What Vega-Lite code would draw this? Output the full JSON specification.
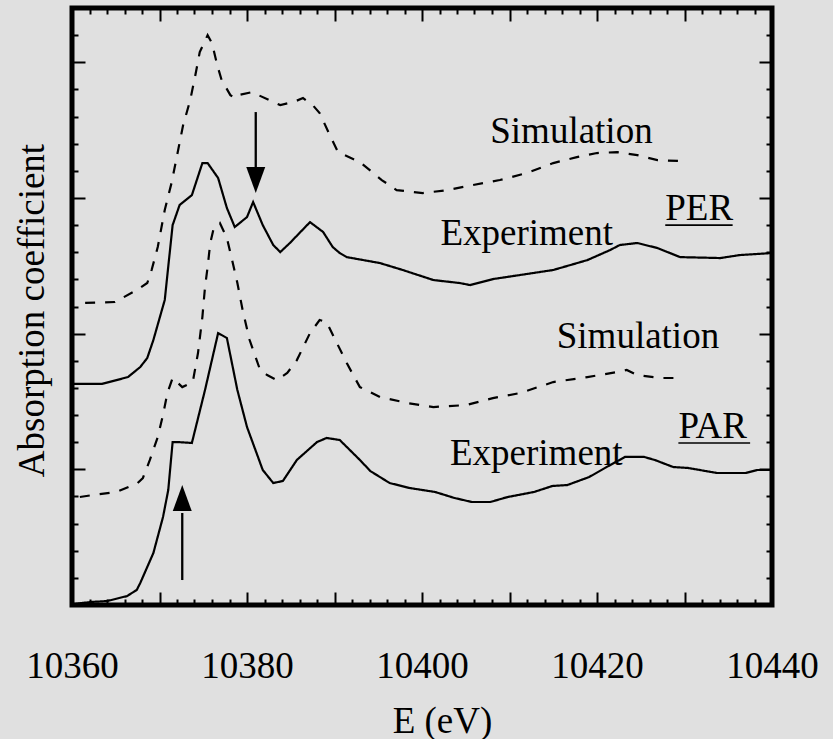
{
  "$schema": "https://vega.github.io/schema/vega-lite/v6.json",
  "width": 700,
  "height": 597,
  "autosize": "none",
  "padding": {"left": 72, "top": 8, "right": 61, "bottom": 134},
  "background": "#e0e0e0",
  "config": {
    "view": {"stroke": "black", "strokeWidth": 5},
    "font": "Liberation Serif",
    "axis": {"grid": false, "domain": false, "tickColor": "black", "tickWidth": 2}
  },
  "datasets": {
    "curves": [
      {"s": "PER-sim", "k": "Simulation", "E": 10361.5, "mu": 2.226},
      {"s": "PER-sim", "k": "Simulation", "E": 10364.9, "mu": 2.233},
      {"s": "PER-sim", "k": "Simulation", "E": 10367.4, "mu": 2.321},
      {"s": "PER-sim", "k": "Simulation", "E": 10368.6, "mu": 2.373},
      {"s": "PER-sim", "k": "Simulation", "E": 10369.1, "mu": 2.469},
      {"s": "PER-sim", "k": "Simulation", "E": 10369.8, "mu": 2.638},
      {"s": "PER-sim", "k": "Simulation", "E": 10370.6, "mu": 2.911},
      {"s": "PER-sim", "k": "Simulation", "E": 10371.4, "mu": 3.117},
      {"s": "PER-sim", "k": "Simulation", "E": 10372.7, "mu": 3.537},
      {"s": "PER-sim", "k": "Simulation", "E": 10373.5, "mu": 3.718},
      {"s": "PER-sim", "k": "Simulation", "E": 10374.1, "mu": 3.906},
      {"s": "PER-sim", "k": "Simulation", "E": 10374.6, "mu": 4.075},
      {"s": "PER-sim", "k": "Simulation", "E": 10375.5, "mu": 4.2},
      {"s": "PER-sim", "k": "Simulation", "E": 10376.0, "mu": 4.141},
      {"s": "PER-sim", "k": "Simulation", "E": 10376.6, "mu": 3.979},
      {"s": "PER-sim", "k": "Simulation", "E": 10377.1, "mu": 3.869},
      {"s": "PER-sim", "k": "Simulation", "E": 10378.1, "mu": 3.758},
      {"s": "PER-sim", "k": "Simulation", "E": 10378.6, "mu": 3.736},
      {"s": "PER-sim", "k": "Simulation", "E": 10379.0, "mu": 3.758},
      {"s": "PER-sim", "k": "Simulation", "E": 10380.6, "mu": 3.78},
      {"s": "PER-sim", "k": "Simulation", "E": 10381.3, "mu": 3.758},
      {"s": "PER-sim", "k": "Simulation", "E": 10383.0, "mu": 3.707},
      {"s": "PER-sim", "k": "Simulation", "E": 10383.8, "mu": 3.685},
      {"s": "PER-sim", "k": "Simulation", "E": 10385.3, "mu": 3.707},
      {"s": "PER-sim", "k": "Simulation", "E": 10386.4, "mu": 3.736},
      {"s": "PER-sim", "k": "Simulation", "E": 10387.5, "mu": 3.685},
      {"s": "PER-sim", "k": "Simulation", "E": 10388.3, "mu": 3.626},
      {"s": "PER-sim", "k": "Simulation", "E": 10389.3, "mu": 3.486},
      {"s": "PER-sim", "k": "Simulation", "E": 10390.4, "mu": 3.338},
      {"s": "PER-sim", "k": "Simulation", "E": 10392.9, "mu": 3.265},
      {"s": "PER-sim", "k": "Simulation", "E": 10395.4, "mu": 3.132},
      {"s": "PER-sim", "k": "Simulation", "E": 10397.1, "mu": 3.058},
      {"s": "PER-sim", "k": "Simulation", "E": 10400.1, "mu": 3.036},
      {"s": "PER-sim", "k": "Simulation", "E": 10402.9, "mu": 3.058},
      {"s": "PER-sim", "k": "Simulation", "E": 10405.8, "mu": 3.095},
      {"s": "PER-sim", "k": "Simulation", "E": 10408.9, "mu": 3.132},
      {"s": "PER-sim", "k": "Simulation", "E": 10412.0, "mu": 3.184},
      {"s": "PER-sim", "k": "Simulation", "E": 10415.0, "mu": 3.257},
      {"s": "PER-sim", "k": "Simulation", "E": 10417.7, "mu": 3.301},
      {"s": "PER-sim", "k": "Simulation", "E": 10420.0, "mu": 3.331},
      {"s": "PER-sim", "k": "Simulation", "E": 10422.3, "mu": 3.338},
      {"s": "PER-sim", "k": "Simulation", "E": 10424.6, "mu": 3.316},
      {"s": "PER-sim", "k": "Simulation", "E": 10426.9, "mu": 3.279},
      {"s": "PER-sim", "k": "Simulation", "E": 10429.5, "mu": 3.272},

      {"s": "PER-exp", "k": "Experiment", "E": 10360.0, "mu": 1.629},
      {"s": "PER-exp", "k": "Experiment", "E": 10363.4, "mu": 1.629},
      {"s": "PER-exp", "k": "Experiment", "E": 10366.4, "mu": 1.68},
      {"s": "PER-exp", "k": "Experiment", "E": 10367.8, "mu": 1.754},
      {"s": "PER-exp", "k": "Experiment", "E": 10368.6, "mu": 1.82},
      {"s": "PER-exp", "k": "Experiment", "E": 10369.3, "mu": 1.953},
      {"s": "PER-exp", "k": "Experiment", "E": 10370.6, "mu": 2.248},
      {"s": "PER-exp", "k": "Experiment", "E": 10371.5, "mu": 2.8},
      {"s": "PER-exp", "k": "Experiment", "E": 10372.3, "mu": 2.948},
      {"s": "PER-exp", "k": "Experiment", "E": 10373.7, "mu": 3.021},
      {"s": "PER-exp", "k": "Experiment", "E": 10374.9, "mu": 3.257},
      {"s": "PER-exp", "k": "Experiment", "E": 10375.5, "mu": 3.257},
      {"s": "PER-exp", "k": "Experiment", "E": 10376.7, "mu": 3.147},
      {"s": "PER-exp", "k": "Experiment", "E": 10377.7, "mu": 2.926},
      {"s": "PER-exp", "k": "Experiment", "E": 10378.6, "mu": 2.786},
      {"s": "PER-exp", "k": "Experiment", "E": 10380.0, "mu": 2.859},
      {"s": "PER-exp", "k": "Experiment", "E": 10380.7, "mu": 2.97},
      {"s": "PER-exp", "k": "Experiment", "E": 10381.8, "mu": 2.8},
      {"s": "PER-exp", "k": "Experiment", "E": 10383.0, "mu": 2.653},
      {"s": "PER-exp", "k": "Experiment", "E": 10383.8, "mu": 2.601},
      {"s": "PER-exp", "k": "Experiment", "E": 10384.9, "mu": 2.668},
      {"s": "PER-exp", "k": "Experiment", "E": 10387.2, "mu": 2.822},
      {"s": "PER-exp", "k": "Experiment", "E": 10388.7, "mu": 2.749},
      {"s": "PER-exp", "k": "Experiment", "E": 10389.8, "mu": 2.638},
      {"s": "PER-exp", "k": "Experiment", "E": 10390.6, "mu": 2.594},
      {"s": "PER-exp", "k": "Experiment", "E": 10391.4, "mu": 2.564},
      {"s": "PER-exp", "k": "Experiment", "E": 10395.2, "mu": 2.52},
      {"s": "PER-exp", "k": "Experiment", "E": 10397.8, "mu": 2.469},
      {"s": "PER-exp", "k": "Experiment", "E": 10401.3, "mu": 2.395},
      {"s": "PER-exp", "k": "Experiment", "E": 10404.3, "mu": 2.373},
      {"s": "PER-exp", "k": "Experiment", "E": 10405.5, "mu": 2.358},
      {"s": "PER-exp", "k": "Experiment", "E": 10408.1, "mu": 2.402},
      {"s": "PER-exp", "k": "Experiment", "E": 10411.2, "mu": 2.432},
      {"s": "PER-exp", "k": "Experiment", "E": 10415.0, "mu": 2.469},
      {"s": "PER-exp", "k": "Experiment", "E": 10418.9, "mu": 2.542},
      {"s": "PER-exp", "k": "Experiment", "E": 10421.5, "mu": 2.616},
      {"s": "PER-exp", "k": "Experiment", "E": 10422.6, "mu": 2.653},
      {"s": "PER-exp", "k": "Experiment", "E": 10424.6, "mu": 2.668},
      {"s": "PER-exp", "k": "Experiment", "E": 10426.9, "mu": 2.631},
      {"s": "PER-exp", "k": "Experiment", "E": 10429.5, "mu": 2.564},
      {"s": "PER-exp", "k": "Experiment", "E": 10434.1, "mu": 2.557},
      {"s": "PER-exp", "k": "Experiment", "E": 10436.3, "mu": 2.579},
      {"s": "PER-exp", "k": "Experiment", "E": 10440.0, "mu": 2.594},

      {"s": "PAR-sim", "k": "Simulation", "E": 10360.9, "mu": 0.796},
      {"s": "PAR-sim", "k": "Simulation", "E": 10362.4, "mu": 0.811},
      {"s": "PAR-sim", "k": "Simulation", "E": 10365.1, "mu": 0.833},
      {"s": "PAR-sim", "k": "Simulation", "E": 10367.5, "mu": 0.899},
      {"s": "PAR-sim", "k": "Simulation", "E": 10368.1, "mu": 0.936},
      {"s": "PAR-sim", "k": "Simulation", "E": 10368.9, "mu": 1.069},
      {"s": "PAR-sim", "k": "Simulation", "E": 10369.8, "mu": 1.238},
      {"s": "PAR-sim", "k": "Simulation", "E": 10370.4, "mu": 1.4},
      {"s": "PAR-sim", "k": "Simulation", "E": 10370.9, "mu": 1.562},
      {"s": "PAR-sim", "k": "Simulation", "E": 10371.5, "mu": 1.673},
      {"s": "PAR-sim", "k": "Simulation", "E": 10372.6, "mu": 1.606},
      {"s": "PAR-sim", "k": "Simulation", "E": 10373.8, "mu": 1.643},
      {"s": "PAR-sim", "k": "Simulation", "E": 10374.4, "mu": 1.857},
      {"s": "PAR-sim", "k": "Simulation", "E": 10374.9, "mu": 2.122},
      {"s": "PAR-sim", "k": "Simulation", "E": 10375.2, "mu": 2.343},
      {"s": "PAR-sim", "k": "Simulation", "E": 10375.5, "mu": 2.491},
      {"s": "PAR-sim", "k": "Simulation", "E": 10375.8, "mu": 2.668},
      {"s": "PAR-sim", "k": "Simulation", "E": 10376.2, "mu": 2.778},
      {"s": "PAR-sim", "k": "Simulation", "E": 10376.9, "mu": 2.815},
      {"s": "PAR-sim", "k": "Simulation", "E": 10377.7, "mu": 2.705},
      {"s": "PAR-sim", "k": "Simulation", "E": 10378.3, "mu": 2.542},
      {"s": "PAR-sim", "k": "Simulation", "E": 10378.9, "mu": 2.373},
      {"s": "PAR-sim", "k": "Simulation", "E": 10379.5, "mu": 2.174},
      {"s": "PAR-sim", "k": "Simulation", "E": 10380.3, "mu": 1.953},
      {"s": "PAR-sim", "k": "Simulation", "E": 10381.5, "mu": 1.732},
      {"s": "PAR-sim", "k": "Simulation", "E": 10382.3, "mu": 1.695},
      {"s": "PAR-sim", "k": "Simulation", "E": 10383.4, "mu": 1.658},
      {"s": "PAR-sim", "k": "Simulation", "E": 10384.6, "mu": 1.71},
      {"s": "PAR-sim", "k": "Simulation", "E": 10385.7, "mu": 1.805},
      {"s": "PAR-sim", "k": "Simulation", "E": 10387.2, "mu": 2.004},
      {"s": "PAR-sim", "k": "Simulation", "E": 10388.3, "mu": 2.1},
      {"s": "PAR-sim", "k": "Simulation", "E": 10389.1, "mu": 2.085},
      {"s": "PAR-sim", "k": "Simulation", "E": 10390.1, "mu": 1.953},
      {"s": "PAR-sim", "k": "Simulation", "E": 10391.4, "mu": 1.783},
      {"s": "PAR-sim", "k": "Simulation", "E": 10392.9, "mu": 1.606},
      {"s": "PAR-sim", "k": "Simulation", "E": 10395.2, "mu": 1.533},
      {"s": "PAR-sim", "k": "Simulation", "E": 10398.3, "mu": 1.489},
      {"s": "PAR-sim", "k": "Simulation", "E": 10401.3, "mu": 1.459},
      {"s": "PAR-sim", "k": "Simulation", "E": 10405.1, "mu": 1.474},
      {"s": "PAR-sim", "k": "Simulation", "E": 10408.1, "mu": 1.525},
      {"s": "PAR-sim", "k": "Simulation", "E": 10411.2, "mu": 1.562},
      {"s": "PAR-sim", "k": "Simulation", "E": 10415.0, "mu": 1.643},
      {"s": "PAR-sim", "k": "Simulation", "E": 10418.9, "mu": 1.68},
      {"s": "PAR-sim", "k": "Simulation", "E": 10422.3, "mu": 1.717},
      {"s": "PAR-sim", "k": "Simulation", "E": 10423.4, "mu": 1.732},
      {"s": "PAR-sim", "k": "Simulation", "E": 10424.6, "mu": 1.695},
      {"s": "PAR-sim", "k": "Simulation", "E": 10427.2, "mu": 1.673},
      {"s": "PAR-sim", "k": "Simulation", "E": 10429.5, "mu": 1.673},

      {"s": "PAR-exp", "k": "Experiment", "E": 10360.2, "mu": 0.007},
      {"s": "PAR-exp", "k": "Experiment", "E": 10362.1, "mu": 0.022},
      {"s": "PAR-exp", "k": "Experiment", "E": 10364.0, "mu": 0.029},
      {"s": "PAR-exp", "k": "Experiment", "E": 10366.3, "mu": 0.066},
      {"s": "PAR-exp", "k": "Experiment", "E": 10367.4, "mu": 0.111},
      {"s": "PAR-exp", "k": "Experiment", "E": 10367.8, "mu": 0.162},
      {"s": "PAR-exp", "k": "Experiment", "E": 10369.3, "mu": 0.383},
      {"s": "PAR-exp", "k": "Experiment", "E": 10370.4, "mu": 0.648},
      {"s": "PAR-exp", "k": "Experiment", "E": 10371.0, "mu": 0.847},
      {"s": "PAR-exp", "k": "Experiment", "E": 10371.5, "mu": 1.201},
      {"s": "PAR-exp", "k": "Experiment", "E": 10372.1, "mu": 1.201},
      {"s": "PAR-exp", "k": "Experiment", "E": 10373.7, "mu": 1.194},
      {"s": "PAR-exp", "k": "Experiment", "E": 10375.2, "mu": 1.584},
      {"s": "PAR-exp", "k": "Experiment", "E": 10376.7, "mu": 2.004},
      {"s": "PAR-exp", "k": "Experiment", "E": 10377.7, "mu": 1.968},
      {"s": "PAR-exp", "k": "Experiment", "E": 10378.9, "mu": 1.584},
      {"s": "PAR-exp", "k": "Experiment", "E": 10380.0, "mu": 1.312},
      {"s": "PAR-exp", "k": "Experiment", "E": 10381.8, "mu": 0.995},
      {"s": "PAR-exp", "k": "Experiment", "E": 10383.0, "mu": 0.899},
      {"s": "PAR-exp", "k": "Experiment", "E": 10384.1, "mu": 0.914},
      {"s": "PAR-exp", "k": "Experiment", "E": 10385.7, "mu": 1.069},
      {"s": "PAR-exp", "k": "Experiment", "E": 10388.0, "mu": 1.201},
      {"s": "PAR-exp", "k": "Experiment", "E": 10389.1, "mu": 1.231},
      {"s": "PAR-exp", "k": "Experiment", "E": 10390.6, "mu": 1.216},
      {"s": "PAR-exp", "k": "Experiment", "E": 10392.9, "mu": 1.069},
      {"s": "PAR-exp", "k": "Experiment", "E": 10394.1, "mu": 0.987},
      {"s": "PAR-exp", "k": "Experiment", "E": 10396.3, "mu": 0.899},
      {"s": "PAR-exp", "k": "Experiment", "E": 10398.6, "mu": 0.862},
      {"s": "PAR-exp", "k": "Experiment", "E": 10401.5, "mu": 0.833},
      {"s": "PAR-exp", "k": "Experiment", "E": 10403.7, "mu": 0.789},
      {"s": "PAR-exp", "k": "Experiment", "E": 10405.7, "mu": 0.759},
      {"s": "PAR-exp", "k": "Experiment", "E": 10407.8, "mu": 0.759},
      {"s": "PAR-exp", "k": "Experiment", "E": 10409.8, "mu": 0.796},
      {"s": "PAR-exp", "k": "Experiment", "E": 10412.8, "mu": 0.833},
      {"s": "PAR-exp", "k": "Experiment", "E": 10414.9, "mu": 0.877},
      {"s": "PAR-exp", "k": "Experiment", "E": 10416.6, "mu": 0.884},
      {"s": "PAR-exp", "k": "Experiment", "E": 10419.1, "mu": 0.943},
      {"s": "PAR-exp", "k": "Experiment", "E": 10421.1, "mu": 1.017},
      {"s": "PAR-exp", "k": "Experiment", "E": 10423.2, "mu": 1.091},
      {"s": "PAR-exp", "k": "Experiment", "E": 10425.4, "mu": 1.091},
      {"s": "PAR-exp", "k": "Experiment", "E": 10426.6, "mu": 1.069},
      {"s": "PAR-exp", "k": "Experiment", "E": 10428.7, "mu": 1.017},
      {"s": "PAR-exp", "k": "Experiment", "E": 10430.4, "mu": 1.01},
      {"s": "PAR-exp", "k": "Experiment", "E": 10433.7, "mu": 0.973},
      {"s": "PAR-exp", "k": "Experiment", "E": 10437.0, "mu": 0.973},
      {"s": "PAR-exp", "k": "Experiment", "E": 10438.3, "mu": 0.995},
      {"s": "PAR-exp", "k": "Experiment", "E": 10440.0, "mu": 0.995}
    ],
    "labels": [
      {"E": 10407.8, "mu": 3.405, "t": "Simulation"},
      {"E": 10402.1, "mu": 2.653, "t": "Experiment"},
      {"E": 10427.8, "mu": 2.837, "t": "PER"},
      {"E": 10415.4, "mu": 1.894, "t": "Simulation"},
      {"E": 10429.3, "mu": 1.231, "t": "PAR"},
      {"E": 10403.2, "mu": 1.032, "t": "Experiment"}
    ],
    "underlines": [
      {"E1": 10427.8, "E2": 10435.5, "mu": 2.8},
      {"E1": 10429.3, "E2": 10437.5, "mu": 1.194}
    ],
    "arrows": [
      {"E": 10381.0, "tail": 3.633, "base": 3.228, "tip": 3.036, "dir": "down"},
      {"E": 10372.6, "tail": 0.184, "base": 0.678, "tip": 0.884, "dir": "up"}
    ]
  },
  "layer": [
    {
      "data": {"name": "curves"},
      "mark": {"type": "line", "stroke": "black", "strokeWidth": 2.2},
      "encoding": {
        "x": {
          "field": "E", "type": "quantitative",
          "scale": {"domain": [10360, 10440], "nice": false, "zero": false},
          "axis": {
            "orient": "bottom",
            "values": [10360,10362,10364,10366,10368,10370,10372,10374,10376,10378,10380,10382,10384,10386,10388,10390,10392,10394,10396,10398,10400,10402,10404,10406,10408,10410,10412,10414,10416,10418,10420,10422,10424,10426,10428,10430,10432,10434,10436,10438,10440],
            "tickSize": {"condition": {"test": "datum.value % 10 === 0", "value": -13}, "value": -6},
            "labelExpr": "datum.value % 20 === 0 ? format(datum.value, 'd') : ''",
            "labelFont": "Liberation Serif", "labelFontSize": 37, "labelColor": "black",
            "labelBaseline": "alphabetic", "labelPadding": 85,
            "labelFlush": false, "labelOverlap": false, "labelBound": false,
            "title": "E (eV)", "titleFont": "Liberation Serif", "titleFontSize": 37,
            "titleFontWeight": "normal", "titleColor": "black",
            "titleX": 370, "titleY": 127, "titleBaseline": "alphabetic", "titleAlign": "center"
          }
        },
        "y": {
          "field": "mu", "type": "quantitative",
          "scale": {"domain": [0, 4.4], "nice": false, "zero": false},
          "axis": {
            "orient": "left",
            "values": [0,0.2,0.4,0.6,0.8,1,1.2,1.4,1.6,1.8,2,2.2,2.4,2.6,2.8,3,3.2,3.4,3.6,3.8,4,4.2,4.4],
            "tickSize": {"condition": {"test": "abs(datum.value - round(datum.value)) < 0.001", "value": -13}, "value": -6},
            "labels": false,
            "title": "Absorption coefficient", "titleFont": "Liberation Serif", "titleFontSize": 37,
            "titleFontWeight": "normal", "titleColor": "black", "titleAngle": -90,
            "titleX": -29, "titleY": 302, "titleBaseline": "alphabetic", "titleAlign": "center"
          }
        },
        "detail": {"field": "s"},
        "strokeDash": {
          "field": "k", "type": "nominal",
          "scale": {"domain": ["Experiment", "Simulation"], "range": [[1, 0], [10, 10]]},
          "legend": null
        }
      }
    },
    {
      "data": {"name": "underlines"},
      "mark": {"type": "rule", "stroke": "black", "strokeWidth": 1.6},
      "encoding": {
        "x": {
          "field": "E1", "type": "quantitative",
          "scale": {"domain": [10360, 10440], "nice": false, "zero": false},
          "axis": {
            "orient": "top",
            "values": [10360,10362,10364,10366,10368,10370,10372,10374,10376,10378,10380,10382,10384,10386,10388,10390,10392,10394,10396,10398,10400,10402,10404,10406,10408,10410,10412,10414,10416,10418,10420,10422,10424,10426,10428,10430,10432,10434,10436,10438,10440],
            "tickSize": {"condition": {"test": "datum.value % 10 === 0", "value": -13}, "value": -6},
            "labels": false, "title": null
          }
        },
        "x2": {"field": "E2"},
        "y": {
          "field": "mu", "type": "quantitative",
          "scale": {"domain": [0, 4.4], "nice": false, "zero": false},
          "axis": {
            "orient": "right",
            "values": [0,0.2,0.4,0.6,0.8,1,1.2,1.4,1.6,1.8,2,2.2,2.4,2.6,2.8,3,3.2,3.4,3.6,3.8,4,4.2,4.4],
            "tickSize": {"condition": {"test": "abs(datum.value - round(datum.value)) < 0.001", "value": -13}, "value": -6},
            "labels": false, "title": null
          }
        }
      }
    },
    {
      "data": {"name": "labels"},
      "mark": {"type": "text", "font": "Liberation Serif", "fontSize": 37, "align": "left", "baseline": "alphabetic", "color": "black"},
      "encoding": {
        "x": {"field": "E", "type": "quantitative", "scale": {"domain": [10360, 10440], "nice": false, "zero": false}, "axis": null},
        "y": {"field": "mu", "type": "quantitative", "scale": {"domain": [0, 4.4], "nice": false, "zero": false}, "axis": null},
        "text": {"field": "t"}
      }
    },
    {
      "data": {"name": "arrows"},
      "mark": {"type": "rule", "stroke": "black", "strokeWidth": 2.3},
      "encoding": {
        "x": {"field": "E", "type": "quantitative", "scale": {"domain": [10360, 10440], "nice": false, "zero": false}, "axis": null},
        "y": {"field": "tail", "type": "quantitative", "scale": {"domain": [0, 4.4], "nice": false, "zero": false}, "axis": null},
        "y2": {"field": "base"}
      }
    },
    {
      "data": {"name": "arrows"},
      "mark": {"type": "point", "filled": true, "color": "black", "opacity": 1, "size": 676, "strokeWidth": 0},
      "encoding": {
        "x": {"field": "E", "type": "quantitative", "scale": {"domain": [10360, 10440], "nice": false, "zero": false}, "axis": null},
        "y": {"field": "tip", "type": "quantitative", "scale": {"domain": [0, 4.4], "nice": false, "zero": false}, "axis": null},
        "shape": {
          "field": "dir", "type": "nominal",
          "scale": {"domain": ["down", "up"], "range": ["M-0.73,-2L0.73,-2L0,0Z", "M-0.73,2L0.73,2L0,0Z"]},
          "legend": null
        }
      }
    }
  ],
  "resolve": {"axis": {"x": "independent", "y": "independent"}}
}
